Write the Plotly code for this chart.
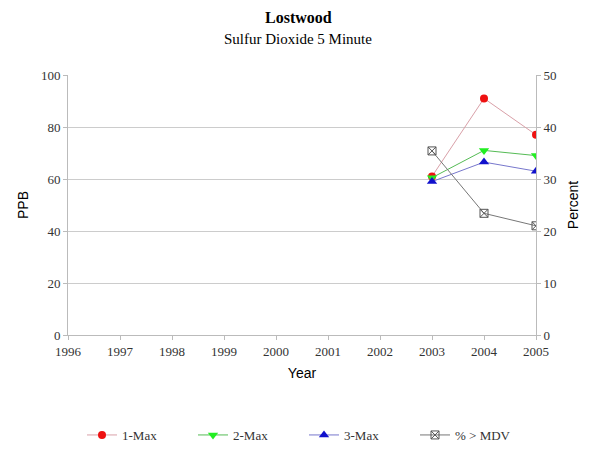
import plotly.graph_objects as go

years = [2003, 2004, 2005]
max1 = [61, 91, 77]
max2 = [60.5, 71, 69]
max3 = [59, 66.5, 63]
pct_mdv = [35.4, 23.4, 21.0]
x_ticks = list(range(1996, 2006))

serif = "Liberation Serif"
sans = "Liberation Sans"

# page body has an 8px margin; size figure to fill the remaining viewport
W, H = 589, 441
L, R, T, B = 60, 61, 67, 114
PW, PH = W - L - R, H - T - B

fig = go.Figure()
fig.add_trace(go.Scatter(x=years, y=max1, name="1-Max", mode="lines+markers",
                         line=dict(color="#d9a0a8", width=1),
                         marker=dict(symbol="circle", size=8, color="#ee1111")))
fig.add_trace(go.Scatter(x=years, y=max2, name="2-Max", mode="lines+markers",
                         line=dict(color="#55bb55", width=1),
                         marker=dict(symbol="triangle-down", size=9, color="#22ee22")))
fig.add_trace(go.Scatter(x=years, y=max3, name="3-Max", mode="lines+markers",
                         line=dict(color="#7777cc", width=1),
                         marker=dict(symbol="triangle-up", size=9, color="#1111cc")))
fig.add_trace(go.Scatter(x=years, y=pct_mdv, name="% > MDV", mode="lines+markers", yaxis="y2",
                         line=dict(color="#777777", width=1),
                         marker=dict(symbol="square-x-open", size=8, color="#555555",
                                     line=dict(width=1))))

fig.add_annotation(text="<b>Lostwood</b>", xref="paper", yref="paper",
                   x=(290 - L) / PW, y=1 + (T - 10) / PH, xanchor="center", yanchor="middle",
                   showarrow=False, font=dict(family=serif, size=16, color="black"))
fig.add_annotation(text="Sulfur Dioxide 5 Minute", xref="paper", yref="paper",
                   x=(290 - L) / PW, y=1 + (T - 31) / PH, xanchor="center", yanchor="middle",
                   showarrow=False, font=dict(family=serif, size=15, color="black"))

fig.update_layout(
    width=W, height=H,
    margin=dict(l=L, r=R, t=T, b=B, autoexpand=False),
    paper_bgcolor="white", plot_bgcolor="white",
    xaxis=dict(range=[1996, 2005], tickvals=x_ticks, ticktext=[str(v) for v in x_ticks],
               showgrid=False, zeroline=False, showline=True, linecolor="#bbbbbb",
               ticks="outside", ticklen=4, tickcolor="#bbbbbb",
               tickfont=dict(family=serif, size=13, color="#333333"),
               title=dict(text="Year", font=dict(family=sans, size=14, color="black"), standoff=10)),
    yaxis=dict(range=[0, 100], dtick=20, showgrid=True, gridcolor="#cccccc", gridwidth=1,
               zeroline=False, showline=True, linecolor="#bbbbbb",
               ticks="outside", ticklen=4, tickcolor="#bbbbbb",
               tickfont=dict(family=serif, size=13, color="#333333"),
               title=dict(text="PPB", font=dict(family=sans, size=14, color="black"), standoff=9)),
    yaxis2=dict(range=[0, 50], dtick=10, overlaying="y", side="right", showgrid=False,
                zeroline=False, showline=True, linecolor="#bbbbbb",
                ticks="outside", ticklen=4, tickcolor="#bbbbbb",
                tickfont=dict(family=serif, size=13, color="#333333"),
                title=dict(text="Percent", font=dict(family=sans, size=14, color="black"), standoff=12)),
    legend=dict(orientation="h", x=(296 - L) / PW, xanchor="center", yref="container",
                y=1 - 427 / H, yanchor="middle",
                font=dict(family=serif, size=13, color="#333333"), itemwidth=30,
                entrywidth=66, entrywidthmode="pixels",
                tracegroupgap=0),
    showlegend=True,
)
fig.write_html("out.html")
